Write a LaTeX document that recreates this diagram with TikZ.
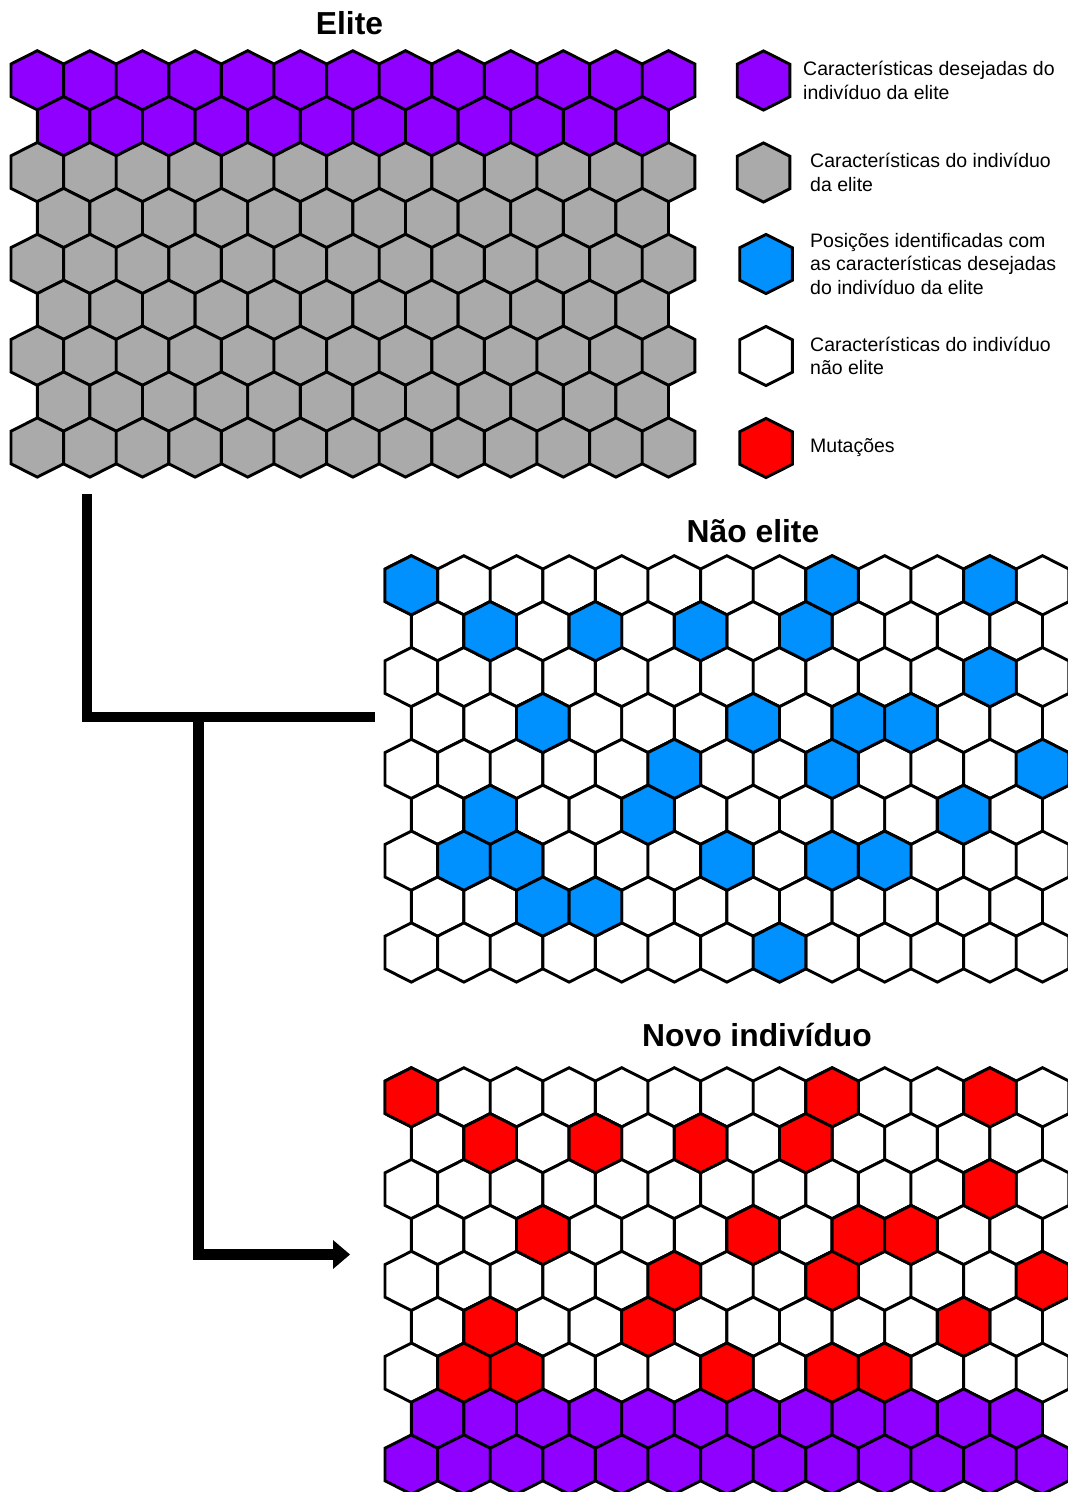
\documentclass[tikz,border=0pt]{standalone}
\usepackage{fontspec}
\setmainfont{Liberation Sans}
\usetikzlibrary{arrows.meta}
\definecolor{elitepurple}{RGB}{143,0,255}
\definecolor{elitegray}{RGB}{170,170,170}
\definecolor{posblue}{RGB}{0,145,255}
\definecolor{mutred}{RGB}{255,0,0}
\tikzset{
  hexline/.style={draw=black, line width=2.9pt, line join=miter},
  titletext/.style={anchor=base, inner sep=0pt, font=\fontsize{31.8}{36}\selectfont\bfseries},
  legtext/.style={anchor=west, align=left, inner sep=0pt, font=\fontsize{19.5}{23.5}\selectfont},
  flow/.style={draw=black, line width=10.7pt, line join=miter, line cap=butt},
}
% one hexagonal cell: centre x, centre y, fill colour
\newcommand\hexcell[3]{%
  \filldraw[hexline, fill=#3, shift={(#1,#2)}]
    (-26.3,-16.3) -- (-26.3,16.3) -- (0,29.6) -- (26.3,16.3) -- (26.3,-16.3) -- (0,-29.6) -- cycle;}
% whole rows of a grid: x0, y0 (centre of first cell), row list, fill
\newcommand\hexrows[4]{%
  \foreach \r in {#3}{%
    \pgfmathtruncatemacro\odd{mod(\r,2)}%
    \ifnum\odd=0 \def\kmax{12}\else\def\kmax{11}\fi
    \foreach \k in {0,...,\kmax}{%
      \pgfmathsetmacro\cx{#1+52.6*\k+26.3*\odd}%
      \pgfmathsetmacro\cy{#2+45.9*\r}%
      \hexcell{\cx}{\cy}{#4}%
    }%
  }}
% single cells: x0, y0, list of row/col, fill
\newcommand\hexcells[4]{%
  \foreach \r/\k in #3{%
    \pgfmathtruncatemacro\odd{mod(\r,2)}%
    \pgfmathsetmacro\cx{#1+52.6*\k+26.3*\odd}%
    \pgfmathsetmacro\cy{#2+45.9*\r}%
    \hexcell{\cx}{\cy}{#4}%
  }}
\def\bluelist{0/0,0/8,0/11,1/1,1/3,1/5,1/7,2/11,3/2,3/6,3/8,3/9,4/5,4/8,4/12,5/1,5/4,5/10,6/1,6/2,6/6,6/8,6/9,7/2,7/3,8/7}
\def\redlist{0/0,0/8,0/11,1/1,1/3,1/5,1/7,2/11,3/2,3/6,3/8,3/9,4/5,4/8,4/12,5/1,5/4,5/10,6/1,6/2,6/6,6/8,6/9}
\begin{document}
\begin{tikzpicture}[x=1pt, y=-1pt]
\useasboundingbox (0,0) rectangle (1068,1492);
\fill[white] (0,0) rectangle (1068,1492);
\begin{scope}
\clip (0,0) rectangle (1068,1492);
% Elite grid
\hexrows{37.3}{80.3}{0,1}{elitepurple}
\hexrows{37.3}{80.3}{2,...,8}{elitegray}
% Nao elite grid
\hexrows{411.3}{585.3}{0,...,8}{white}
\hexcells{411.3}{585.3}{\bluelist}{posblue}
% Novo individuo grid
\hexrows{411.3}{1097.3}{0,...,6}{white}
\hexrows{411.3}{1097.3}{7,8}{elitepurple}
\hexcells{411.3}{1097.3}{\redlist}{mutred}
\end{scope}

% titles
\node[titletext] (elitetitle) at (349.5,34) {Elite};
\node[titletext] (naotitle) at (753,542.5) {Não elite};
\node[titletext] (novotitle) at (757,1046) {Novo indivíduo};

% legend
\hexcell{763.5}{80.5}{elitepurple}
\hexcell{763.5}{172.5}{elitegray}
\hexcell{766}{264}{posblue}
\hexcell{766}{356}{white}
\hexcell{766}{448}{mutred}
\node[legtext] (leg1) at (803,80.5) {Características desejadas do\\indivíduo da elite};
\node[legtext] (leg2) at (810,172.5) {Características do indivíduo\\da elite};
\node[legtext] (leg3) at (810,264) {Posições identificadas com\\as características desejadas\\do indivíduo da elite};
\node[legtext] (leg4) at (810,356) {Características do indivíduo\\não elite};
\node[legtext] (leg5) at (810,448) {Mutações};

% connectors
\coordinate (eliteout) at (87,494);
\coordinate (naoin) at (375,717);
\coordinate (branch) at (198.5,717);
\coordinate (novoin) at (350,1254.5);
\draw[flow] (eliteout) |- (naoin);
\draw[flow, -{Triangle[length=17pt, width=29pt, line width=0pt]}] (branch) |- (novoin);
\end{tikzpicture}
\end{document}
